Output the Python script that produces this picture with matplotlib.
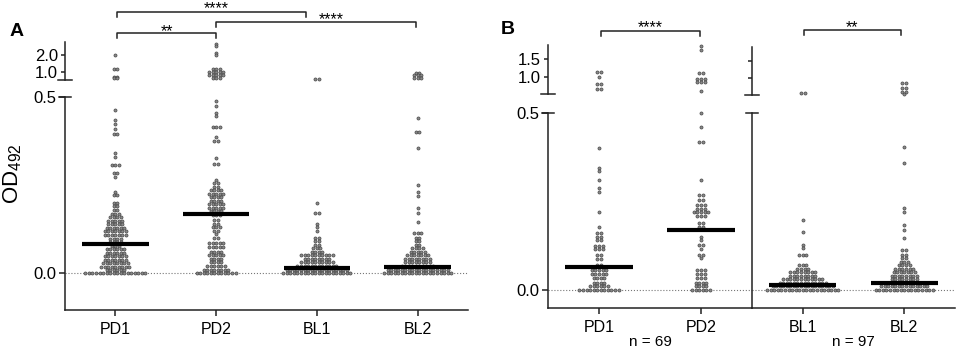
import numpy as np
import matplotlib
matplotlib.use("Agg")
import matplotlib.pyplot as plt
import matplotlib.transforms as mtransforms
from matplotlib.lines import Line2D

plt.rcParams["font.family"] = ["Liberation Sans", "DejaVu Sans"]
plt.rcParams["mathtext.default"] = "regular"

W, H = 957, 352

# ---- panel A: dot rows (OD492 level, number of dots in the row) ----
a_groups = ["PD1", "PD2", "BL1", "BL2"]
a_pd1_lv = [2.0, 1.15, 0.72, 0.66, 0.463, 0.435, 0.423, 0.41, 0.395, 0.34, 0.33, 0.307,
            0.285, 0.272, 0.23, 0.222, 0.2, 0.19, 0.178, 0.168, 0.158, 0.148, 0.138,
            0.128, 0.118, 0.108, 0.098, 0.088, 0.078, 0.068, 0.058, 0.048, 0.038,
            0.028, 0.018, 0.008, 0.0]
a_pd1_n = [1, 2, 2, 2, 1, 1, 1, 1, 2, 1, 1, 3, 2, 1, 1, 2, 2, 2, 2, 3, 4, 5, 5, 6, 7, 7,
           4, 4, 3, 6, 6, 7, 7, 8, 9, 6, 18]
a_pd2_lv = [2.65, 2.5, 2.1, 2.0, 1.2, 1.0, 0.85, 0.65, 0.49, 0.475, 0.455, 0.445, 0.415,
            0.386, 0.375, 0.327, 0.31, 0.264, 0.255, 0.245, 0.235, 0.225, 0.215, 0.205,
            0.195, 0.185, 0.175, 0.165, 0.15, 0.14, 0.13, 0.12, 0.11, 0.1, 0.085, 0.075,
            0.06, 0.05, 0.04, 0.03, 0.02, 0.01, 0.0]
a_pd2_n = [1, 1, 1, 1, 3, 5, 5, 3, 1, 1, 1, 1, 3, 1, 2, 1, 2, 1, 2, 2, 4, 5, 4, 4, 5, 5,
           4, 3, 2, 2, 3, 2, 1, 2, 5, 5, 4, 5, 4, 4, 6, 8, 12]
a_bl1_lv = [0.6, 0.2, 0.17, 0.14, 0.13, 0.12, 0.1, 0.09, 0.08, 0.07, 0.06, 0.05, 0.04,
            0.03, 0.02, 0.01, 0.0]
a_bl1_n = [2, 1, 2, 1, 1, 1, 2, 2, 2, 3, 4, 10, 8, 10, 12, 18, 20]
a_bl2_lv = [0.95, 0.8, 0.65, 0.44, 0.4, 0.355, 0.25, 0.23, 0.22, 0.185, 0.17, 0.145,
            0.113, 0.1, 0.09, 0.08, 0.07, 0.06, 0.05, 0.04, 0.03, 0.02, 0.01, 0.0]
a_bl2_n = [2, 3, 3, 1, 2, 1, 1, 1, 1, 1, 1, 1, 3, 2, 2, 2, 4, 5, 7, 8, 8, 10, 18, 20]
a_centers = [0.082, 0.168, 0.014, 0.017]

# ---- panel B ----
b_left = ["PD1", "PD2"]
b_right = ["BL1", "BL2"]
b_pd1_lv = [1.15, 1.0, 0.8, 0.67, 0.4, 0.345, 0.335, 0.31, 0.288, 0.277, 0.22, 0.178,
            0.16, 0.15, 0.14, 0.125, 0.115, 0.1, 0.088, 0.07, 0.055, 0.045, 0.035,
            0.02, 0.01, 0.0]
b_pd1_n = [2, 1, 2, 2, 1, 1, 1, 1, 1, 1, 1, 1, 2, 2, 2, 3, 3, 2, 2, 2, 5, 5, 4, 4, 6, 12]
b_pd2_lv = [1.85, 1.75, 1.1, 0.95, 0.85, 0.62, 0.5, 0.46, 0.418, 0.31, 0.268, 0.254,
            0.24, 0.23, 0.22, 0.21, 0.19, 0.178, 0.15, 0.14, 0.128, 0.115, 0.1, 0.09,
            0.056, 0.045, 0.035, 0.02, 0.01, 0.0]
b_pd2_n = [1, 1, 2, 3, 3, 1, 1, 1, 2, 1, 2, 2, 3, 3, 5, 3, 2, 2, 1, 1, 2, 1, 2, 1, 3, 3,
           3, 4, 4, 6]
b_bl1_lv = [0.6, 0.198, 0.164, 0.127, 0.118, 0.1, 0.07, 0.06, 0.05, 0.04, 0.03, 0.02,
            0.01, 0.0]
b_bl1_n = [2, 1, 1, 1, 1, 3, 3, 4, 8, 8, 12, 14, 18, 21]
b_bl2_lv = [0.86, 0.72, 0.62, 0.55, 0.404, 0.358, 0.232, 0.22, 0.183, 0.17, 0.147,
            0.113, 0.1, 0.09, 0.08, 0.07, 0.06, 0.05, 0.04, 0.03, 0.02, 0.01, 0.0]
b_bl2_n = [2, 2, 2, 1, 1, 1, 1, 1, 1, 1, 1, 2, 2, 2, 3, 4, 6, 7, 8, 8, 10, 14, 17]
b_centers = [0.065, 0.17, 0.014, 0.02]
b_n_labels = ["n = 69", "n = 97"]

DOT_FC = "#8a8a8a"
DOT_EC = "#404040"
AX_C = "#222222"


def fpx(x, y):
    return x / W, 1 - y / H


fig = plt.figure(figsize=(W / 100, H / 100), dpi=100)


def make_pair(left, right, lo_top, lo_bot, hi_top, hi_bot, lo_lim, hi_lim, ncat):
    lo = fig.add_axes([left / W, 1 - lo_bot / H, (right - left) / W, (lo_bot - lo_top) / H])
    hi = fig.add_axes([left / W, 1 - hi_bot / H, (right - left) / W, (hi_bot - hi_top) / H])
    for ax in (lo, hi):
        ax.set_facecolor("none")
        ax.set_xlim(-0.5, ncat - 0.5)
        for s in ("top", "right"):
            ax.spines[s].set_visible(False)
        for s in ("left", "bottom"):
            ax.spines[s].set_color(AX_C)
            ax.spines[s].set_linewidth(1.1)
        ax.tick_params(colors=AX_C, labelcolor="black", labelsize=12, width=1.1,
                       length=4, pad=2)
    lo.tick_params(axis="x", pad=5, labelsize=11.5)
    hi.spines["bottom"].set_visible(False)
    hi.set_xticks([])
    lo.set_ylim(*lo_lim)
    hi.set_ylim(*hi_lim)
    lo.axhline(0, color="#777777", ls=":", lw=0.8, zorder=1)
    # axis break marks
    w = right - left
    tr_lo = mtransforms.blended_transform_factory(lo.transAxes, lo.transData)
    tr_hi = mtransforms.blended_transform_factory(hi.transAxes, hi.transData)
    lo.plot([-6 / w, 6 / w], [lo_lim[1]] * 2, color=AX_C, lw=1.1, transform=tr_lo,
            clip_on=False)
    hi.plot([-7 / w, 7 / w], [hi_lim[0]] * 2, color=AX_C, lw=1.1, transform=tr_hi,
            clip_on=False)
    return lo, hi


def swarm(lo, hi, x, levels, counts, center, d=0.035, half=0.33):
    xs_lo, ys_lo, xs_hi, ys_hi = [], [], [], []
    for lv, n in zip(levels, counts):
        offs = (np.arange(n) - (n - 1) / 2) * d
        if lv > 0.5:
            xs_hi += list(x + offs)
            ys_hi += [lv] * n
        else:
            xs_lo += list(x + offs)
            ys_lo += [lv] * n
    kw = dict(s=5, facecolor=DOT_FC, edgecolor=DOT_EC, linewidths=0.45, zorder=3,
              clip_on=False)
    lo.scatter(xs_lo, ys_lo, **kw)
    hi.scatter(xs_hi, ys_hi, **kw)
    lo.plot([x - half, x + half], [center, center], color="black", lw=3.0,
            solid_capstyle="butt", zorder=4)


def bracket(ax, x1, x2, y, text, tx=None, ty=None):
    tr = mtransforms.blended_transform_factory(ax.transData, fig.transFigure)
    ax.add_artist(Line2D([x1, x1, x2, x2], [1 - (y + 4.5) / H, 1 - y / H, 1 - y / H,
                                            1 - (y + 4.5) / H],
                         color=AX_C, lw=1.1, transform=tr, clip_on=False))
    tx = (x1 + x2) / 2 if tx is None else tx
    ty = y - 5 if ty is None else ty
    ax.text(tx, 1 - (ty + 8.5) / H, text, transform=tr, ha="center", va="baseline",
            fontsize=11.5, clip_on=False)


# ---- panel A ----
aL, aH = make_pair(65, 468, 97, 310, 42, 80, (-0.105, 0.5), (0.53, 2.76), 4)
aL.set_yticks([0.0, 0.5], ["0.0", "0.5"])
aH.set_yticks([1.0, 2.0], ["1.0", "2.0"])
aH.tick_params(axis="y", length=3)
aL.set_xticks(range(4), a_groups)
swarm(aL, aH, 0, a_pd1_lv, a_pd1_n, a_centers[0])
swarm(aL, aH, 1, a_pd2_lv, a_pd2_n, a_centers[1])
swarm(aL, aH, 2, a_bl1_lv, a_bl1_n, a_centers[2])
swarm(aL, aH, 3, a_bl2_lv, a_bl2_n, a_centers[3])
bracket(aL, 0.02, 1.0, 33, "**", ty=27.5)
bracket(aL, 0.02, 1.89, 12, "****", tx=1.0, ty=4.5)
bracket(aL, 1.0, 2.98, 22, "****", tx=2.14, ty=15.7)

# ---- panel B ----
bL, bLh = make_pair(548, 752, 113, 308, 45, 94, (-0.051, 0.5), (0.53, 1.89), 2)
bR, bRh = make_pair(752, 955, 113, 308, 47, 95, (-0.051, 0.5), (0.53, 1.89), 2)
bL.set_yticks([0.0, 0.5], ["0.0", "0.5"])
bLh.set_yticks([1.0, 1.5], ["1.0", "1.5"])
bLh.tick_params(axis="y", length=3)
bR.set_yticks([])
bRh.set_yticks([1.0, 1.5], ["", ""])
bRh.tick_params(axis="y", length=3)
bL.set_xticks(range(2), b_left)
bR.set_xticks(range(2), b_right)
swarm(bL, bLh, 0, b_pd1_lv, b_pd1_n, b_centers[0])
swarm(bL, bLh, 1, b_pd2_lv, b_pd2_n, b_centers[1])
swarm(bR, bRh, 0, b_bl1_lv, b_bl1_n, b_centers[2])
swarm(bR, bRh, 1, b_bl2_lv, b_bl2_n, b_centers[3])
bracket(bL, 0.02, 0.99, 31, "****", ty=24)
bracket(bR, 0.01, 0.97, 30, "**", ty=24)

tr = mtransforms.blended_transform_factory(bL.transAxes, fig.transFigure)
bL.text(0.5, 1 - 342 / H, b_n_labels[0], transform=tr, ha="center", va="center",
        fontsize=11)
tr = mtransforms.blended_transform_factory(bR.transAxes, fig.transFigure)
bR.text(0.5, 1 - 342 / H, b_n_labels[1], transform=tr, ha="center", va="center",
        fontsize=11)

fig.text(*fpx(13, 174), "OD$_{492}$", rotation=90, ha="center", va="center", fontsize=16)
fig.text(*fpx(17, 32), "A", ha="center", va="center", fontsize=14, fontweight="bold")
fig.text(*fpx(508, 30), "B", ha="center", va="center", fontsize=14, fontweight="bold")

fig.savefig("out.png", dpi=100)
